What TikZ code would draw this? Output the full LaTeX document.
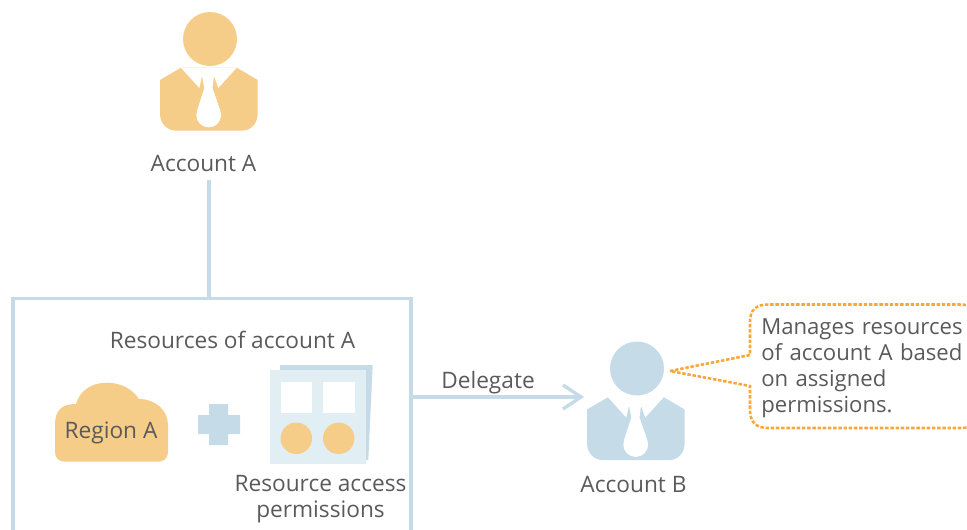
\documentclass[tikz,border=0pt]{standalone}
\usepackage{fontspec}
\setmainfont{Open Sans}
\definecolor{peach}{HTML}{F5CD88}
\definecolor{steel}{HTML}{C5DBE7}
\definecolor{pale}{HTML}{E1EEF3}
\definecolor{dashor}{HTML}{FBA63A}
\definecolor{ink}{HTML}{5A5A5A}
\tikzset{
  lbl/.style={text=ink,font=\fontsize{17}{19.5}\selectfont,inner sep=0pt,align=center},
  notelbl/.style={text=ink,font=\fontsize{16.6}{19.5}\selectfont,inner sep=0pt},
  link/.style={draw=steel,line width=2.5pt},
  dotline/.style={draw=dashor,line width=1.9pt,dash pattern=on 2.6pt off 1.3pt}
}
\newcommand{\personicon}[3]{%
  \begin{scope}[shift={#3}]
    \fill[#2] (160,80)--(181,67.7)--(236.7,67.7)--(257.7,80)--(257.7,113)
      .. controls (257.7,124) and (251,130.7) .. (241,130.7) -- (177,130.7)
      .. controls (167,130.7) and (160,124) .. (160,113) -- cycle;
    \fill[white] (181,67.7)--(199.3,88)--(202,76)--(204.3,88)--(196.9,111)
      -- (220.5,111)
      -- (212.5,88)--(214,76)--(218.3,88)--(236.7,67.7)--cycle;
    \fill[white] (208.7,115) circle[radius=9.3pt];
    \node[circle,fill=#2,minimum size=40.5pt,inner sep=0pt] (#1) at (210,39) {};
  \end{scope}}
\begin{document}
\begin{tikzpicture}[x=0.75pt,y=-0.75pt]
\useasboundingbox (0,0) rectangle (967,529);
\begin{scope}
\clip (0,0) rectangle (967,529);
% box
\node[draw=steel,line width=2.5pt,minimum width=298.5pt,minimum height=180pt,inner sep=0pt,anchor=north west] (box) at (11.4,297) {};
% account A
\personicon{headA}{peach}{(0,0)}
\node[lbl] (accA) at (203.5,163) {Account A};
\coordinate (a1) at (209,180);
\draw[link] (a1) -- (a1 |- box.north);
% account B
\personicon{headB}{steel}{(427,329.5)}
\node[lbl] (accB) at (633.5,484) {Account B};
% callout
\coordinate (tip) at (670,371);
\draw[dotline] (tip) -- (750,355) -- (750,322)
  .. controls (750,310) and (756,304.5) .. (768,304.5) -- (960,304.5)
  .. controls (972,304.5) and (980,310) .. (980,322) -- (980,412)
  .. controls (980,424) and (972,428) .. (960,428) -- (768,428)
  .. controls (756,428) and (750,422) .. (750,410) -- (750,386) -- cycle;
\node[notelbl,align=left,anchor=north west,text width=210pt] (note) at (761,318.5) {Manages resources\\of account A based\\on assigned\\permissions.};
% arrow
\coordinate (arrowy) at (412,397);
\coordinate (tipB) at (581,397);
\draw[link] (arrowy) -- (tipB);
\draw[link] (563,385) -- (tipB) -- (563,409);
\node[lbl] (deleg) at (488,383) {Delegate};
% box title
\node[lbl] (title) at (232.5,340) {Resources of account A};
% cloud
\fill[peach] (55,425) .. controls (55,410) and (62,404) .. (76,404)
  .. controls (80,390) and (92,382.7) .. (107,382.7)
  .. controls (122,382.7) and (133,390) .. (139,399)
  .. controls (155,399) and (168,410) .. (168,425) -- (168,452)
  .. controls (168,458) and (164,461.7) .. (158,461.7) -- (65,461.7)
  .. controls (59,461.7) and (55,458) .. (55,452) -- cycle;
\node[lbl] (region) at (111,432.5) {Region A};
% plus
\fill[steel] (209,404) -- (228,404) -- (228,415) -- (240,415) -- (240,434) -- (228,434) -- (228,445) -- (209,445) -- (209,434) -- (198,434) -- (198,415) -- (209,415) -- cycle;
% document
\fill[steel] (280,365) -- (372.7,365) -- (368.3,460) -- (280,460) -- cycle;
\fill[pale] (270,370) rectangle (365.7,464.3);
\fill[white] (281,381.7) rectangle (312,412.7);
\fill[white] (323,381.7) rectangle (354.7,412.7);
\fill[peach] (296.3,438.3) circle[radius=11.8pt];
\fill[peach] (338.7,438.3) circle[radius=11.8pt];
\node[lbl] (perm) at (320.5,499) {Resource access\\permissions};
\end{scope}
\end{tikzpicture}
\end{document}
